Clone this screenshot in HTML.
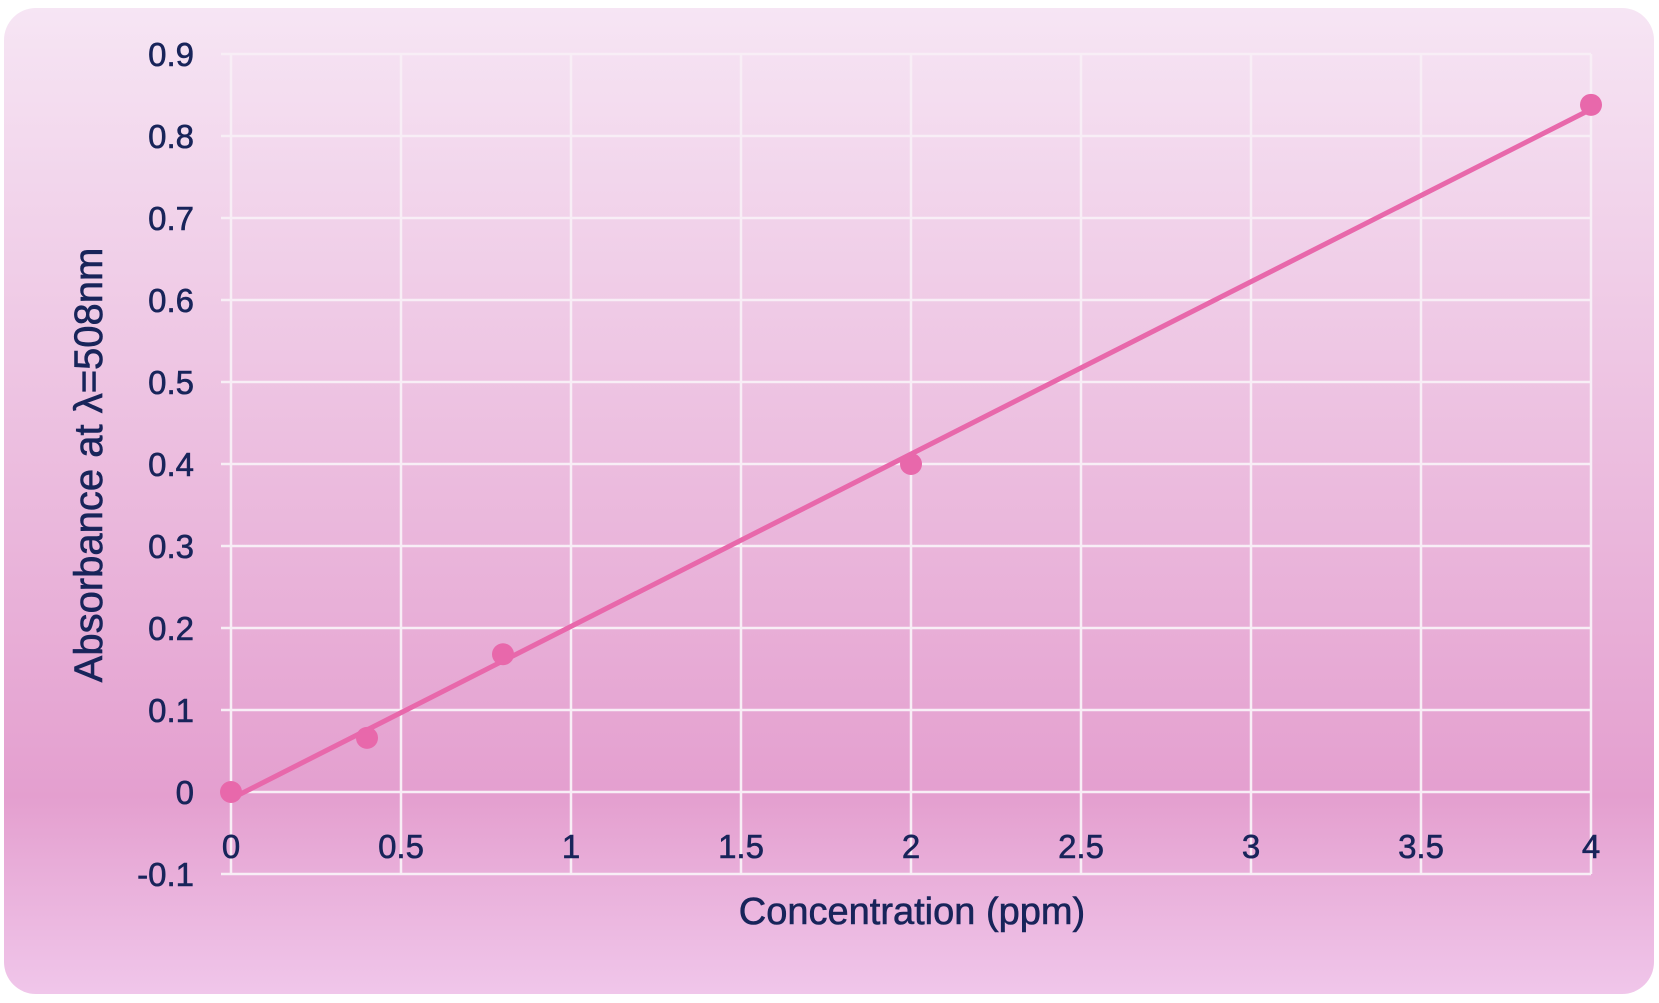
<!DOCTYPE html>
<html><head><meta charset="utf-8"><style>
html,body{margin:0;padding:0;background:#fff;}
svg{display:block;}
text{font-family:"Liberation Sans",sans-serif;fill:#18245a;stroke:#18245a;stroke-width:0.6;}
</style></head><body>
<svg id="chart" width="1659" height="1003">
<defs><linearGradient id="bg" x1="0" y1="0" x2="0" y2="1">
<stop offset="0" stop-color="#f6e5f4"/><stop offset="0.8" stop-color="#e49fcf"/><stop offset="1" stop-color="#f0c6ea"/>
</linearGradient></defs>
<rect x="4" y="8" width="1650" height="986" rx="32" fill="url(#bg)"/>
<g id="grid"></g><g id="ticks"></g><g id="marks"></g>
<text x="912" y="924" text-anchor="middle" font-size="38">Concentration (ppm)</text>
<text transform="translate(102,465) rotate(-90)" text-anchor="middle" font-size="40">Absorbance at λ=508nm</text>
</svg>
<script>
const xVals=[0,0.4,0.8,2,4];
const yVals=[0,0.066,0.168,0.4,0.838];
const xTicks=[0,0.5,1,1.5,2,2.5,3,3.5,4];
const xTickLabels=["0","0.5","1","1.5","2","2.5","3","3.5","4"];
const yTicks=[-0.1,0,0.1,0.2,0.3,0.4,0.5,0.6,0.7,0.8,0.9];
const yTickLabels=["-0.1","0","0.1","0.2","0.3","0.4","0.5","0.6","0.7","0.8","0.9"];
const NS="http://www.w3.org/2000/svg";
const X=v=>231+(v-0)/4*(1591-231);
const Y=v=>874-(v+0.1)/1.0*(874-54);
function mk(t,a,p){const e=document.createElementNS(NS,t);for(const k in a)e.setAttribute(k,a[k]);p.appendChild(e);return e;}
const grid=document.getElementById('grid'),ticks=document.getElementById('ticks'),marks=document.getElementById('marks');
yTicks.forEach((v,i)=>{
 const l=mk('line',{x1:X(0)-10,x2:X(4),y1:Y(v),y2:Y(v),stroke:'#f8eef6','stroke-width':2.5},grid);
 
 
 const t=mk('text',{x:194,y:Y(v)+12,'text-anchor':'end','font-size':33},ticks);
 t.textContent=yTickLabels[i];
 
 
});
xTicks.forEach((v,i)=>{
 const l=mk('line',{x1:X(v),x2:X(v),y1:Y(0.9),y2:Y(-0.1),stroke:'#f8eef6','stroke-width':2.5},grid);
 
 
 const t=mk('text',{x:X(v),y:Y(0)+66,'text-anchor':'middle','font-size':33},ticks);
 t.textContent=xTickLabels[i];
 
 
});
const n=xVals.length,mx=xVals.reduce((a,b)=>a+b)/n,my=yVals.reduce((a,b)=>a+b)/n;
let sxy=0,sxx=0;xVals.forEach((x,i)=>{sxy+=(x-mx)*(yVals[i]-my);sxx+=(x-mx)**2;});
const m=sxy/sxx,b=my-m*mx,x0=Math.min(...xVals),x1=Math.max(...xVals);
const tl=mk('line',{x1:X(x0),y1:Y(m*x0+b),x2:X(x1),y2:Y(m*x1+b),stroke:'#e868ab','stroke-width':5},marks);


xVals.forEach((x,i)=>{
 const c=mk('circle',{cx:X(x),cy:Y(yVals[i]),r:11,fill:'#e868ab'},marks);
 
 
});
</script>
</body></html>
